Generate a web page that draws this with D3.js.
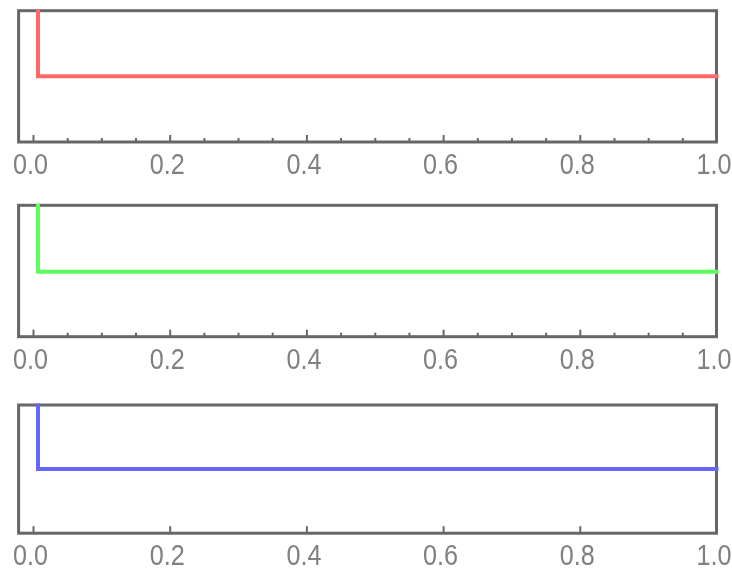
<!DOCTYPE html>
<html>
<head>
<meta charset="utf-8">
<script src="https://cdn.jsdelivr.net/npm/d3@7"></script>
<style>
  body { margin: 0; background: #fff; }
  svg { display: block; }
</style>
</head>
<body>
<svg id="chart" width="732" height="570"></svg>
<script>
// Step curves: a sharp drop just right of zero, then flat out to x = 1
const stepX = [0.0073, 0.0073, 1.0];
const redY = [1.6, 0.5, 0.5];
const greenY = [1.6, 0.495, 0.495];
const blueY = [1.6, 0.5, 0.5];

// Axis ticks shared by the three panels
const majorTicks = [0, 0.2, 0.4, 0.6, 0.8, 1.0];
const tickLabels = ["0.0", "0.2", "0.4", "0.6", "0.8", "1.0"];
const minorTicks = [0.05, 0.1, 0.15, 0.25, 0.3, 0.35, 0.45, 0.5, 0.55,
                    0.65, 0.7, 0.75, 0.85, 0.9, 0.95];

const svg = d3.select("#chart");
const frameColor = "#666";

const x = d3.scaleLinear().domain([0, 1]).range([33, 716.5]);
const frameLeft = 18.6;

const panels = [
  { values: redY,   color: "#ff6868", top: 10.7,  bottom: 142.0, minor: true },
  { values: greenY, color: "#5cff5c", top: 205.3, bottom: 336.7, minor: true },
  { values: blueY,  color: "#6666ff", top: 405.0, bottom: 533.2, minor: false }
];

const defs = svg.append("defs");
defs.append("filter").attr("id", "soft")
  .attr("x", "-10%").attr("y", "-10%").attr("width", "120%").attr("height", "120%")
  .append("feGaussianBlur").attr("stdDeviation", 0.55);

panels.forEach((p, i) => {
  const y = d3.scaleLinear().domain([0, 1]).range([p.bottom, p.top]);
  const g = svg.append("g");

  // frame
  g.append("rect")
    .attr("x", frameLeft).attr("y", p.top)
    .attr("width", x(1) - frameLeft).attr("height", p.bottom - p.top)
    .attr("fill", "none").attr("stroke", frameColor).attr("stroke-width", 3);

  // major ticks with labels, drawn inward from the bottom edge
  const axis = d3.axisBottom(x)
    .tickValues(majorTicks)
    .tickFormat((d, k) => tickLabels[k])
    .tickSizeInner(-7).tickSizeOuter(0).tickPadding(0);
  const ax = g.append("g").attr("transform", `translate(0,${p.bottom})`).call(axis);
  ax.select(".domain").remove();
  ax.selectAll(".tick line").attr("stroke", frameColor).attr("stroke-width", 2);
  ax.selectAll(".tick text")
    .attr("fill", "#808080")
    .attr("font-family", "'Liberation Sans', Arial, sans-serif")
    .attr("font-size", 30)
    .attr("dy", null)
    .attr("y", null)
    .attr("text-anchor", "middle")
    .attr("transform", "translate(-3,32) scale(0.84,1)")
    .attr("filter", "url(#soft)");

  if (p.minor) {
    const minorAxis = d3.axisBottom(x)
      .tickValues(minorTicks).tickFormat("")
      .tickSizeInner(-4).tickSizeOuter(0);
    const mx = g.append("g").attr("transform", `translate(0,${p.bottom})`).call(minorAxis);
    mx.select(".domain").remove();
    mx.selectAll(".tick line").attr("stroke", frameColor).attr("stroke-width", 2);
  }

  // curve, clipped just outside the frame
  const clipId = "clip" + i;
  defs.append("clipPath").attr("id", clipId)
    .append("rect")
    .attr("x", frameLeft).attr("y", p.top - 1.5)
    .attr("width", x(1) - frameLeft + 4).attr("height", p.bottom - p.top + 1.5);

  const line = d3.line()
    .x((d, k) => x(stepX[k]))
    .y(d => y(d));

  g.append("path")
    .datum(p.values)
    .attr("clip-path", `url(#${clipId})`)
    .attr("d", line)
    .attr("fill", "none")
    .attr("stroke", p.color)
    .attr("stroke-width", 4)
    .attr("stroke-linejoin", "miter")
    .attr("stroke-linecap", "square");
});
</script>
</body>
</html>
